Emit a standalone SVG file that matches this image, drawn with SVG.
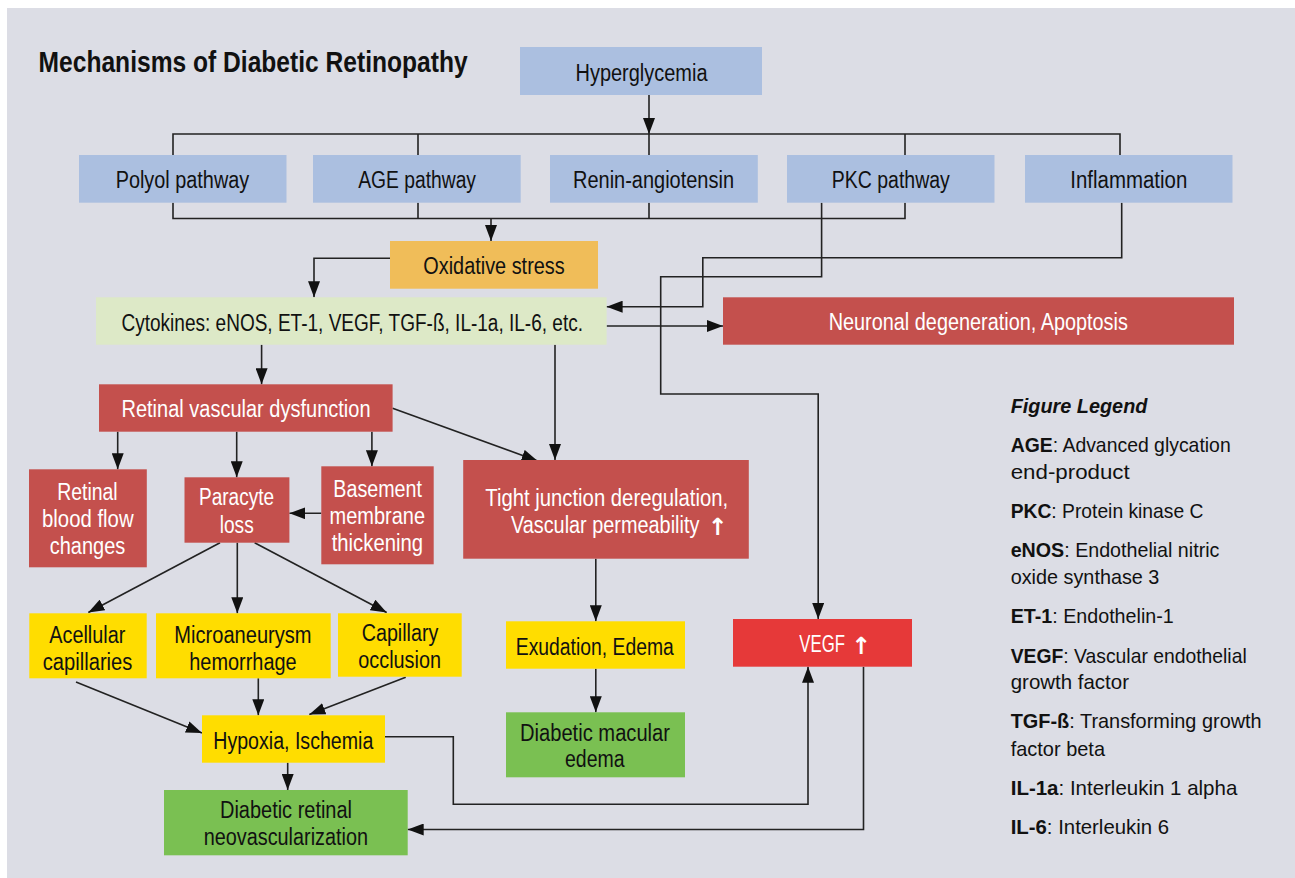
<svg xmlns="http://www.w3.org/2000/svg" width="1295" height="878" viewBox="0 0 1295 878">
<style>
text{font-family:"Liberation Sans",Arial,sans-serif;font-size:23.5px;fill:#111;}
.w{fill:#fff;}
.t{font-size:30px;font-weight:bold;}
.lg{font-size:21px;}
.b{font-weight:bold;}
.up{font-family:"DejaVu Sans","Liberation Sans",sans-serif;font-weight:bold;fill:#fff;}
.blue{fill:#abbfe0;}
.org{fill:#f0bd59;}
.lgr{fill:#dde9c7;}
.red{fill:#c4504d;}
.yel{fill:#ffdd00;}
.grn{fill:#7ac052;}
.brd{fill:#e63939;}
#connectors path{fill:none;stroke:#222;stroke-width:1.6;}
</style>
<defs>
<marker id="ah" markerUnits="userSpaceOnUse" markerWidth="17" markerHeight="12" refX="16" refY="6" orient="auto">
<path d="M0,0 L16,6 L0,12 z" fill="#111"/>
</marker>
</defs>
<rect x="0" y="0" width="1295" height="878" fill="#fff"/>
<rect x="7" y="8" width="1288" height="870" fill="#dcdde5"/>
<text class="t" x="38.6" y="71.7" textLength="429" lengthAdjust="spacingAndGlyphs">Mechanisms of Diabetic Retinopathy</text>

<g id="connectors">
<path d="M649,95 V134" marker-end="url(#ah)"/>
<path d="M173,155 V134 H1120 V155 M418,134 V155 M649,134 V155 M905,134 V155"/>
<path d="M173,202.7 V218.5 H905 V202.7 M418,202.7 V218.5 M649,202.7 V218.5"/>
<path d="M491,218.5 V241" marker-end="url(#ah)"/>
<path d="M390,258.3 H314 V297.3" marker-end="url(#ah)"/>
<path d="M821.6,202.7 V276.7 H660.7 V394 H818.2 V619" marker-end="url(#ah)"/>
<path d="M1121.7,202.7 V257.7 H702.8 V306.7 H606.6" marker-end="url(#ah)"/>
<path d="M606.6,326 H723" marker-end="url(#ah)"/>
<path d="M261.6,344.7 V384.3" marker-end="url(#ah)"/>
<path d="M555,344.7 V460" marker-end="url(#ah)"/>
<path d="M117.7,431.7 V469.3" marker-end="url(#ah)"/>
<path d="M236.7,431.7 V477.3" marker-end="url(#ah)"/>
<path d="M371.9,431.7 V466.3" marker-end="url(#ah)"/>
<path d="M392.6,408.3 L537.7,461" marker-end="url(#ah)"/>
<path d="M321.3,513.3 H289.4" marker-end="url(#ah)"/>
<path d="M220,542.7 L88.3,612.5" marker-end="url(#ah)"/>
<path d="M237.3,542.7 V613.3" marker-end="url(#ah)"/>
<path d="M254.6,542.7 L386.7,612.5" marker-end="url(#ah)"/>
<path d="M76,682 L202,733" marker-end="url(#ah)"/>
<path d="M258.3,678.3 V715.3" marker-end="url(#ah)"/>
<path d="M405.7,677.3 L309.3,714.5" marker-end="url(#ah)"/>
<path d="M287.7,762.7 V790" marker-end="url(#ah)"/>
<path d="M595.8,558.7 V621.3" marker-end="url(#ah)"/>
<path d="M595.8,668.7 V712.3" marker-end="url(#ah)"/>
<path d="M385,736.7 H453.3 V804.3 H808 V666.7" marker-end="url(#ah)"/>
<path d="M863.5,666.7 V829.5 H407.7" marker-end="url(#ah)"/>
</g>

<g id="hyperglycemia"><rect class="blue" x="520" y="47" width="242" height="48"/><text x="575.5" y="80.7" textLength="132" lengthAdjust="spacingAndGlyphs">Hyperglycemia</text></g>
<g id="polyol"><rect class="blue" x="79" y="155" width="207.5" height="47.7"/><text x="115.7" y="188.3" textLength="133.5" lengthAdjust="spacingAndGlyphs">Polyol pathway</text></g>
<g id="age"><rect class="blue" x="313" y="155" width="207.7" height="47.7"/><text x="358.2" y="188.3" textLength="117.8" lengthAdjust="spacingAndGlyphs">AGE pathway</text></g>
<g id="renin"><rect class="blue" x="550" y="155" width="207.8" height="47.7"/><text x="573" y="188.3" textLength="161" lengthAdjust="spacingAndGlyphs">Renin-angiotensin</text></g>
<g id="pkc"><rect class="blue" x="787" y="155" width="207.5" height="47.7"/><text x="831.8" y="188.3" textLength="118" lengthAdjust="spacingAndGlyphs">PKC pathway</text></g>
<g id="inflammation"><rect class="blue" x="1025" y="155" width="207.5" height="47.7"/><text x="1070.3" y="188.3" textLength="117" lengthAdjust="spacingAndGlyphs">Inflammation</text></g>
<g id="oxidative"><rect class="org" x="390" y="241" width="208" height="47.7"/><text x="423.3" y="274" textLength="141.4" lengthAdjust="spacingAndGlyphs">Oxidative stress</text></g>
<g id="cytokines"><rect class="lgr" x="96" y="297.3" width="510.6" height="47.4"/><text x="121.5" y="330.7" textLength="461.5" lengthAdjust="spacingAndGlyphs">Cytokines: eNOS, ET-1, VEGF, TGF-ß, IL-1a, IL-6, etc.</text></g>
<g id="neuronal"><rect class="red" x="723" y="297.3" width="511" height="47.4"/><text class="w" x="828.7" y="330.3" textLength="299.2" lengthAdjust="spacingAndGlyphs">Neuronal degeneration, Apoptosis</text></g>
<g id="rvd"><rect class="red" x="99" y="384.3" width="293.6" height="47.4"/><text class="w" x="121.5" y="417.3" textLength="249" lengthAdjust="spacingAndGlyphs">Retinal vascular dysfunction</text></g>
<g id="bloodflow"><rect class="red" x="29" y="469.3" width="117.8" height="98"/><text class="w" x="57.2" y="500" textLength="60.5" lengthAdjust="spacingAndGlyphs">Retinal</text><text class="w" x="42" y="527.3" textLength="91.6" lengthAdjust="spacingAndGlyphs">blood flow</text><text class="w" x="49.8" y="554" textLength="75.4" lengthAdjust="spacingAndGlyphs">changes</text></g>
<g id="paracyte"><rect class="red" x="184.5" y="477.3" width="104.9" height="65.4"/><text class="w" x="199" y="505.3" textLength="75" lengthAdjust="spacingAndGlyphs">Paracyte</text><text class="w" x="219.7" y="533.3" textLength="34" lengthAdjust="spacingAndGlyphs">loss</text></g>
<g id="basement"><rect class="red" x="321.3" y="466.3" width="112.4" height="98"/><text class="w" x="333.3" y="497.3" textLength="88.7" lengthAdjust="spacingAndGlyphs">Basement</text><text class="w" x="329.6" y="524.3" textLength="95.4" lengthAdjust="spacingAndGlyphs">membrane</text><text class="w" x="331.7" y="550.7" textLength="91.3" lengthAdjust="spacingAndGlyphs">thickening</text></g>
<g id="tightjunction"><rect class="red" x="463.2" y="460" width="285.6" height="98.7"/><text class="w" x="485.3" y="506" textLength="242.8" lengthAdjust="spacingAndGlyphs">Tight junction deregulation,</text><text class="w" transform="translate(510.9,532.7) scale(0.846,1)">Vascular permeability</text><text class="up" x="708" y="535" font-size="34">↑</text></g>
<g id="acellular"><rect class="yel" x="29.3" y="613.3" width="117.4" height="65"/><text x="49.3" y="642.7" textLength="76" lengthAdjust="spacingAndGlyphs">Acellular</text><text x="42.7" y="670" textLength="89.7" lengthAdjust="spacingAndGlyphs">capillaries</text></g>
<g id="microaneurysm"><rect class="yel" x="156" y="613.3" width="174.7" height="65"/><text x="174.3" y="642.7" textLength="137.3" lengthAdjust="spacingAndGlyphs">Microaneurysm</text><text x="189.3" y="670" textLength="107.3" lengthAdjust="spacingAndGlyphs">hemorrhage</text></g>
<g id="capillary"><rect class="yel" x="338" y="613.3" width="123.7" height="63.4"/><text x="361.7" y="641" textLength="76.7" lengthAdjust="spacingAndGlyphs">Capillary</text><text x="358.3" y="668.3" textLength="82.7" lengthAdjust="spacingAndGlyphs">occlusion</text></g>
<g id="hypoxia"><rect class="yel" x="202" y="715.3" width="183" height="47.4"/><text x="213.3" y="748.7" textLength="160" lengthAdjust="spacingAndGlyphs">Hypoxia, Ischemia</text></g>
<g id="drn"><rect class="grn" x="164" y="790" width="243.7" height="65.3"/><text x="220" y="818.3" textLength="132" lengthAdjust="spacingAndGlyphs">Diabetic retinal</text><text x="203.7" y="845.3" textLength="164.3" lengthAdjust="spacingAndGlyphs">neovascularization</text></g>
<g id="exudation"><rect class="yel" x="506" y="621.3" width="179" height="47.4"/><text x="515.8" y="655" textLength="158" lengthAdjust="spacingAndGlyphs">Exudation, Edema</text></g>
<g id="dme"><rect class="grn" x="506" y="712.3" width="179" height="65"/><text x="520" y="740.7" textLength="150" lengthAdjust="spacingAndGlyphs">Diabetic macular</text><text x="565" y="767.3" textLength="59.6" lengthAdjust="spacingAndGlyphs">edema</text></g>
<g id="vegf"><rect class="brd" x="733" y="619" width="179" height="47.7"/><text class="w" transform="translate(799.3,651.7) scale(0.714,1)">VEGF</text><text class="up" x="851.5" y="654" font-size="31">↑</text></g>

<g id="legend">
<text class="lg b" x="1010.7" y="413.3" font-style="italic" textLength="136.7" lengthAdjust="spacingAndGlyphs">Figure Legend</text>
<text class="lg" x="1010.7" y="451.7" textLength="220" lengthAdjust="spacingAndGlyphs"><tspan class="b">AGE</tspan>: Advanced glycation</text>
<text class="lg" x="1010.7" y="479" textLength="119" lengthAdjust="spacingAndGlyphs">end-product</text>
<text class="lg" x="1010.7" y="517.7" textLength="192.7" lengthAdjust="spacingAndGlyphs"><tspan class="b">PKC</tspan>: Protein kinase C</text>
<text class="lg" x="1010.7" y="557.3" textLength="208.7" lengthAdjust="spacingAndGlyphs"><tspan class="b">eNOS</tspan>: Endothelial nitric</text>
<text class="lg" x="1010.7" y="584" textLength="148.7" lengthAdjust="spacingAndGlyphs">oxide synthase 3</text>
<text class="lg" x="1010.7" y="623.3" textLength="163" lengthAdjust="spacingAndGlyphs"><tspan class="b">ET-1</tspan>: Endothelin-1</text>
<text class="lg" x="1010.7" y="662.7" textLength="236" lengthAdjust="spacingAndGlyphs"><tspan class="b">VEGF</tspan>: Vascular endothelial</text>
<text class="lg" x="1010.7" y="689.3" textLength="118.3" lengthAdjust="spacingAndGlyphs">growth factor</text>
<text class="lg" x="1010.7" y="728.3" textLength="251" lengthAdjust="spacingAndGlyphs"><tspan class="b">TGF-ß</tspan>: Transforming growth</text>
<text class="lg" x="1010.7" y="755.7" textLength="94.3" lengthAdjust="spacingAndGlyphs">factor beta</text>
<text class="lg" x="1010.7" y="795" textLength="226.6" lengthAdjust="spacingAndGlyphs"><tspan class="b">IL-1a</tspan>: Interleukin 1 alpha</text>
<text class="lg" x="1010.7" y="834" textLength="158.3" lengthAdjust="spacingAndGlyphs"><tspan class="b">IL-6</tspan>: Interleukin 6</text>
</g>
</svg>
